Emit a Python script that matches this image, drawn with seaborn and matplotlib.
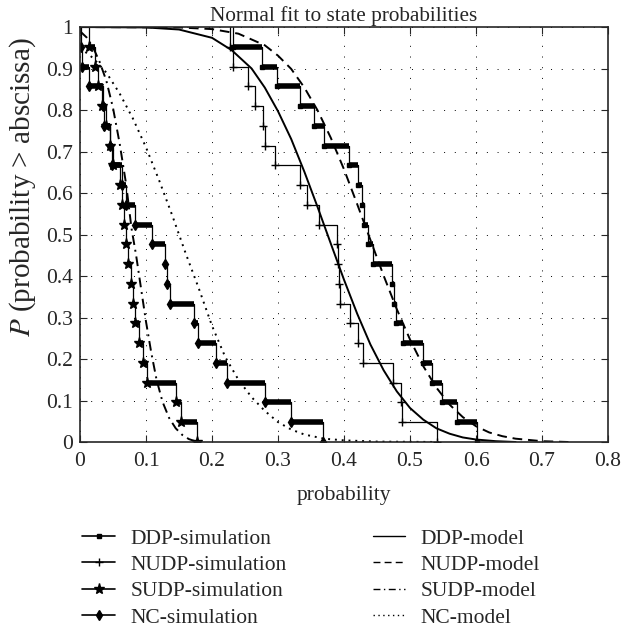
import numpy as np
import pandas as pd
import seaborn as sns
import matplotlib.pyplot as plt
from matplotlib.lines import Line2D
from matplotlib.ticker import FormatStrFormatter

# simulated state probabilities, 21 runs per scheme (sorted)
ddp_sim = [0.232, 0.276, 0.298, 0.333, 0.355, 0.369, 0.407, 0.421, 0.428, 0.431, 0.436,
           0.444, 0.472, 0.476, 0.479, 0.490, 0.519, 0.534, 0.548, 0.571, 0.602]
nudp_sim = [0.228, 0.232, 0.255, 0.265, 0.278, 0.281, 0.295, 0.334, 0.344, 0.362, 0.389,
            0.391, 0.393, 0.394, 0.409, 0.421, 0.429, 0.474, 0.487, 0.488, 0.541]
sudp_sim = [0.014, 0.022, 0.028, 0.034, 0.040, 0.045, 0.050, 0.060, 0.064, 0.067, 0.070,
            0.072, 0.077, 0.080, 0.084, 0.089, 0.095, 0.101, 0.146, 0.153, 0.177]
nc_sim = [0.001, 0.003, 0.013, 0.035, 0.037, 0.045, 0.048, 0.064, 0.069, 0.083, 0.109,
          0.129, 0.132, 0.137, 0.172, 0.179, 0.206, 0.222, 0.280, 0.320, 0.368]

# fitted normal models
ddp_model_x = [0.00, 0.10, 0.15, 0.20, 0.23, 0.26, 0.28, 0.30, 0.32, 0.34, 0.36, 0.38, 0.40,
               0.42, 0.44, 0.46, 0.48, 0.50, 0.52, 0.54, 0.56, 0.58, 0.60, 0.63, 0.66]
ddp_model_p = [1.000, 0.999, 0.994, 0.974, 0.944, 0.900, 0.854, 0.797, 0.730, 0.651, 0.566,
               0.478, 0.391, 0.309, 0.235, 0.173, 0.122, 0.082, 0.054, 0.033, 0.020, 0.011,
               0.006, 0.002, 0.000]
nudp_model_x = [0.00, 0.15, 0.20, 0.24, 0.28, 0.30, 0.32, 0.34, 0.36, 0.38, 0.40, 0.42, 0.44,
                0.46, 0.48, 0.50, 0.52, 0.54, 0.56, 0.58, 0.60, 0.62, 0.64, 0.66, 0.70, 0.74]
nudp_model_p = [1.000, 0.999, 0.995, 0.984, 0.956, 0.931, 0.899, 0.854, 0.799, 0.733, 0.657,
                0.573, 0.487, 0.401, 0.320, 0.247, 0.183, 0.131, 0.090, 0.060, 0.038, 0.023,
                0.014, 0.008, 0.002, 0.000]
sudp_model_x = [0.000, 0.010, 0.020, 0.030, 0.040, 0.050, 0.060, 0.070, 0.078, 0.085, 0.092,
                0.100, 0.108, 0.116, 0.125, 0.135, 0.145, 0.155, 0.165, 0.178]
sudp_model_p = [0.990, 0.975, 0.950, 0.915, 0.870, 0.805, 0.720, 0.620, 0.515, 0.450, 0.375,
                0.290, 0.215, 0.150, 0.097, 0.058, 0.033, 0.017, 0.007, 0.000]
nc_model_x = [0.00, 0.02, 0.04, 0.06, 0.08, 0.10, 0.12, 0.14, 0.16, 0.18, 0.20, 0.22, 0.24,
              0.26, 0.28, 0.30, 0.32, 0.34, 0.37, 0.40, 0.45, 0.55]
nc_model_p = [0.950, 0.925, 0.890, 0.840, 0.780, 0.710, 0.630, 0.545, 0.455, 0.370, 0.280,
              0.205, 0.150, 0.108, 0.075, 0.048, 0.030, 0.018, 0.008, 0.004, 0.001, 0.000]

sns.set_style('ticks')
plt.rcParams['font.family'] = ['Liberation Serif', 'DejaVu Serif']
plt.rcParams['mathtext.fontset'] = 'stix'

fig = plt.figure(figsize=(6.37, 6.30), dpi=100)
ax = fig.add_axes([0.1256, 0.2984, 0.8289, 0.6587])

# label, data, marker, marker size, thick horizontal runs
sims = [('DDP-simulation', ddp_sim, 's', 3, True),
        ('NUDP-simulation', nudp_sim, '+', 6, False),
        ('SUDP-simulation', sudp_sim, '*', 8, True),
        ('NC-simulation', nc_sim, 'd', 5, True)]

for label, vals, mk, ms, thick in sims:
    sns.ecdfplot(x=vals, complementary=True, ax=ax, color='black', lw=0.9,
                 marker=mk, markersize=ms)
    if thick:
        s = np.sort(vals)
        n = len(s)
        ax.hlines(1 - np.arange(1, n) / n, s[:-1], s[1:], color='black', lw=4)

models = [('DDP-model', ddp_model_x, ddp_model_p, '-'),
          ('NUDP-model', nudp_model_x, nudp_model_p, (0, (5, 3))),
          ('SUDP-model', sudp_model_x, sudp_model_p, (0, (5, 2.5, 1, 2.5))),
          ('NC-model', nc_model_x, nc_model_p, (0, (1, 2.5)))]

for label, xs, ps, ls in models:
    df = pd.DataFrame({'x': xs, 'p': ps})
    sns.lineplot(data=df, x='x', y='p', ax=ax, color='black', lw=1.4,
                 linestyle=ls, sort=False)

ax.set_xlim(0, 0.8)
ax.set_ylim(0, 1)
ax.set_xticks(np.arange(0, 0.81, 0.1))
ax.set_yticks(np.arange(0, 1.01, 0.1))
ax.xaxis.set_major_formatter(FormatStrFormatter('%g'))
ax.yaxis.set_major_formatter(FormatStrFormatter('%g'))
ax.tick_params(direction='in', top=True, right=True, length=5, width=0.8, labelsize=15.5)
ax.tick_params(axis='x', pad=7)
ax.tick_params(axis='y', pad=5)
ax.grid(True, color='black', linestyle=(0, (1, 10)), linewidth=0.7)
for sp in ax.spines.values():
    sp.set_linewidth(1.2)

ax.set_title('Normal fit to state probabilities', fontsize=15.3, pad=4)
ax.set_xlabel('probability', fontsize=15.5, labelpad=11)
ax.set_ylabel('$P$ (probability > abscissa)', fontsize=21)
ax.yaxis.set_label_coords(-0.08, 0.613)

handles = []
for label, vals, mk, ms, thick in sims:
    handles.append(Line2D([], [], color='black', lw=1.2, marker=mk, markersize=ms, label=label))
for label, xs, ps, ls in models:
    handles.append(Line2D([], [], color='black', lw=1.0, linestyle=ls, label=label))

fig.legend(handles=handles, loc='upper left', bbox_to_anchor=(0.129, 0.161), ncol=2,
           frameon=False, fontsize=15.5, handlelength=1.53, handletextpad=0.7,
           columnspacing=4.0, labelspacing=0.29, borderpad=0, borderaxespad=0, numpoints=1)

fig.savefig('out.png', dpi=100)
